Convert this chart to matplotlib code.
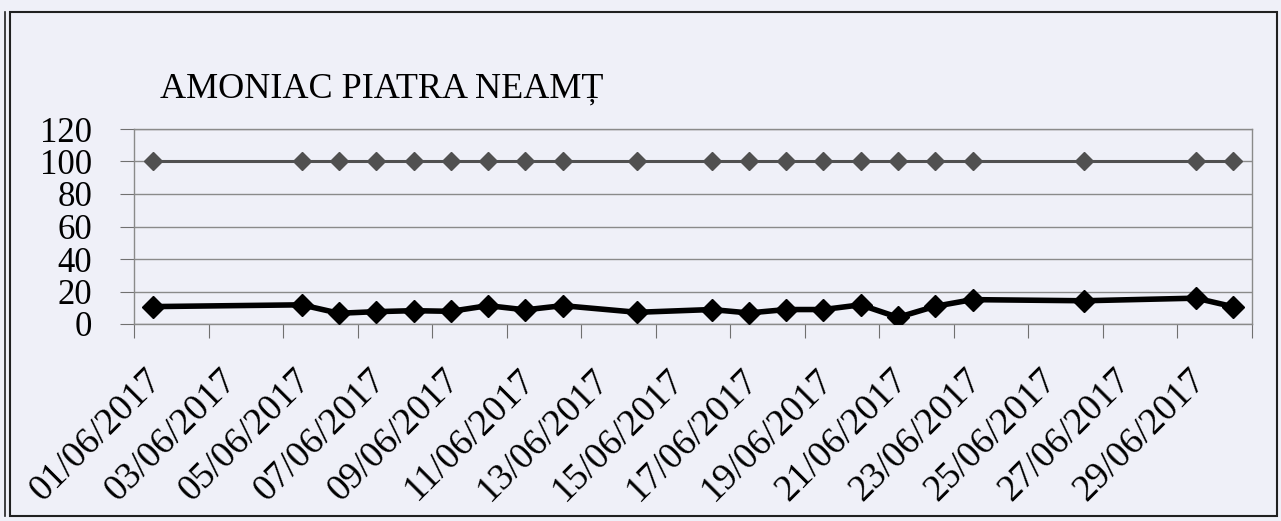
import matplotlib
matplotlib.use("Agg")
import matplotlib.pyplot as plt
import matplotlib.transforms as mtransforms
import pandas as pd
from matplotlib.patches import Rectangle
from matplotlib.lines import Line2D

# date si valori
dates = ['01/06/2017', '05/06/2017', '06/06/2017', '07/06/2017', '08/06/2017',
         '09/06/2017', '10/06/2017', '11/06/2017', '12/06/2017', '14/06/2017',
         '16/06/2017', '17/06/2017', '18/06/2017', '19/06/2017', '20/06/2017',
         '21/06/2017', '22/06/2017', '23/06/2017', '26/06/2017', '29/06/2017',
         '30/06/2017']
amoniac = [10.7, 11.8, 6.6, 7.6, 8.2, 7.8, 11.3, 8.7, 11.3, 7.2,
           8.9, 6.8, 8.9, 8.9, 11.8, 4.1, 10.9, 15.0, 14.3, 15.9, 10.6]
limita = [100, 100, 100, 100, 100, 100, 100, 100, 100, 100,
          100, 100, 100, 100, 100, 100, 100, 100, 100, 100, 100]
title = "AMONIAC PIATRA NEAMȚ"

x = pd.to_datetime(dates, format="%d/%m/%Y")

plt.rcParams['font.family'] = ['Liberation Serif', 'DejaVu Serif']

W, H = 1281, 521
bg = "#eff0f8"
fig = plt.figure(figsize=(W / 100, H / 100), dpi=100, facecolor=bg)
ax = fig.add_axes([134 / W, 1 - 324 / H, (1252 - 134) / W, (324 - 129) / H])
ax.set_facecolor(bg)

ax.plot(x, limita, color="#505050", linewidth=2.2, marker="D", markersize=9,
        markerfacecolor="#505050", markeredgecolor="#505050", zorder=3)
ax.plot(x, amoniac, color="black", linewidth=4, marker="D", markersize=11,
        markerfacecolor="black", markeredgecolor="black", zorder=4)

ax.set_ylim(0, 120)
ax.set_yticks([0, 20, 40, 60, 80, 100, 120])
ax.grid(axis="y", color="#8a8a8a", linewidth=1)
ax.set_axisbelow(True)

x_start = pd.Timestamp("2017-05-31 12:00")
x_end = pd.Timestamp("2017-06-30 12:00")
ax.set_xlim(x_start, x_end)
major = pd.date_range(x_start, x_end, freq="2D")
ax.set_xticks(major)
ax.set_xticklabels([])
minor = pd.date_range("2017-06-01", "2017-06-29", freq="2D")
ax.set_xticks(minor, minor=True)
ax.set_xticklabels([d.strftime("%d/%m/%Y") for d in minor], minor=True,
                   rotation=45, ha="right", va="top", rotation_mode="anchor",
                   fontsize=27)
ax.tick_params(axis="x", which="minor", length=0, pad=28)
ax.tick_params(axis="x", which="major", length=10, color="#707070")
ax.tick_params(axis="y", length=10, color="#707070", labelsize=25, pad=20)

shift = mtransforms.ScaledTranslation(-8 / 100, 0, fig.dpi_scale_trans)
for lbl in ax.get_xticklabels(minor=True):
    lbl.set_transform(lbl.get_transform() + shift)

for s in ax.spines.values():
    s.set_color("#8a8a8a")
    s.set_linewidth(1)

fig.text(160 / W, 1 - 98 / H, title, fontsize=26, ha="left", va="baseline")

# chenarul exterior
fig.patches.append(Rectangle((10 / W, 1 - 516 / H), (1277 - 10) / W, (516 - 12) / H,
                             transform=fig.transFigure, fill=False,
                             edgecolor="#202020", linewidth=1.5))
fig.lines.append(Line2D([5 / W, 5 / W], [1 - 516 / H, 1 - 12 / H],
                        transform=fig.transFigure, color="#202020", linewidth=1.2))

fig.savefig("out.png", dpi=100, facecolor=bg)
